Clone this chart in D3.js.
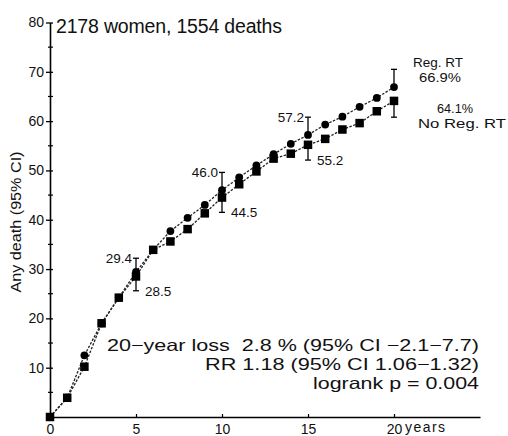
<!DOCTYPE html>
<html><head><meta charset="utf-8">
<script src="https://cdn.jsdelivr.net/npm/d3@7/dist/d3.min.js"></script>
<style>
html,body{margin:0;padding:0;background:#fff;}
svg{display:block;font-family:"Liberation Sans",Arial,sans-serif;}
</style></head>
<body>
<svg id="chart" width="508" height="436"></svg>
<script>
const years = d3.range(0, 21);
const regRT   = [0, 3.9, 12.5, 19.0, 24.2, 29.4, 33.9, 37.7, 40.4, 43.0, 46.0, 48.6, 51.0, 53.3, 55.4, 57.2, 59.3, 60.9, 62.9, 64.7, 66.9];
const noRegRT = [0, 3.9, 10.2, 19.0, 24.2, 28.5, 33.9, 35.6, 38.1, 41.3, 44.5, 47.2, 49.8, 52.4, 53.4, 55.2, 56.4, 58.3, 59.6, 62.0, 64.1];
const ciYears = [5, 10, 15, 20];
const regUpper = [32.2, 49.6, 60.8, 70.5];
const noRegLower = [25.6, 41.5, 52.1, 60.8];
const regLabels = ["29.4", "46.0", "57.2"];
const noRegLabels = ["28.5", "44.5", "55.2"];
const xTicks = [0, 5, 10, 15, 20];
const yTicks = [10, 20, 30, 40, 50, 60, 70, 80];
const yMinor = [5, 15, 25, 35, 45, 55, 65, 75];

const svg = d3.select("#chart");
const x = d3.scaleLinear().domain([0, 25]).range([50, 480]);
const y = d3.scaleLinear().domain([0, 80]).range([417, 22.5]);

// axes
const yAxis = svg.append("g").attr("transform", `translate(${x(0)},0)`)
  .call(d3.axisLeft(y).tickValues(yTicks).tickSize(4).tickSizeOuter(0).tickPadding(2));
yAxis.select(".domain").attr("stroke", "#000").attr("stroke-width", 1.6);
yAxis.selectAll(".tick line").attr("stroke-width", 1.3).attr("x2", -4).attr("x1", 3);
yAxis.selectAll(".tick text").attr("font-size", 14).attr("fill", "#111")
  .attr("font-family", "Liberation Sans, Arial, sans-serif");
svg.append("g").selectAll("line").data(yMinor).join("line")
  .attr("x1", x(0) - 2).attr("x2", x(0) + 3)
  .attr("y1", d => y(d)).attr("y2", d => y(d))
  .attr("stroke", "#000").attr("stroke-width", 1.2);

const xAxis = svg.append("g").attr("transform", `translate(0,${y(0)})`)
  .call(d3.axisBottom(x).tickValues(xTicks).tickSize(3).tickSizeOuter(0).tickPadding(4));
xAxis.select(".domain").attr("stroke", "#000").attr("stroke-width", 1.6);
xAxis.selectAll(".tick line").attr("y1", -3).attr("y2", 1).attr("stroke-width", 1.2);
xAxis.selectAll(".tick text").attr("font-size", 14).attr("fill", "#111")
  .attr("font-family", "Liberation Sans, Arial, sans-serif");
svg.append("text").attr("x", x(20) + 11).attr("y", 432)
  .attr("font-size", 14).attr("fill", "#111").attr("textLength", 40).text("years");

// y label
svg.append("text")
  .attr("transform", "translate(21,222) rotate(-90)")
  .attr("text-anchor", "middle").attr("font-size", 14).attr("fill", "#111")
  .attr("textLength", 141).attr("lengthAdjust", "spacingAndGlyphs")
  .text("Any death (95% CI)");

// title
svg.append("text").attr("x", 56).attr("y", 33).attr("font-size", 19.5).attr("fill", "#111")
  .attr("textLength", 226).text("2178 women, 1554 deaths");

// error bars
const capW = 3;
ciYears.forEach((yr, i) => {
  const xi = x(yr);
  const gi = years.indexOf(yr);
  const g = svg.append("g").attr("stroke", "#000").attr("stroke-width", 1.3);
  g.append("line").attr("x1", xi).attr("x2", xi).attr("y1", y(regRT[gi])).attr("y2", y(regUpper[i]));
  g.append("line").attr("x1", xi - capW).attr("x2", xi + capW).attr("y1", y(regUpper[i])).attr("y2", y(regUpper[i]));
  g.append("line").attr("x1", xi).attr("x2", xi).attr("y1", y(noRegRT[gi])).attr("y2", y(noRegLower[i]));
  g.append("line").attr("x1", xi - capW).attr("x2", xi + capW).attr("y1", y(noRegLower[i])).attr("y2", y(noRegLower[i]));
});

// lines
const lineGen = d3.line().x((d, i) => x(years[i])).y(d => y(d));
svg.append("path").datum(regRT).attr("d", lineGen)
  .attr("fill", "none").attr("stroke", "#222").attr("stroke-width", 1.3).attr("stroke-dasharray", "2.5,1.5");
svg.append("path").datum(noRegRT).attr("d", lineGen)
  .attr("fill", "none").attr("stroke", "#222").attr("stroke-width", 1.3).attr("stroke-dasharray", "2.5,1.5");

// markers
svg.append("g").selectAll("circle").data(regRT).join("circle")
  .attr("cx", (d, i) => x(years[i])).attr("cy", d => y(d)).attr("r", 3.9).attr("fill", "#000");
const sq = 8.5;
svg.append("g").selectAll("rect").data(noRegRT).join("rect")
  .attr("x", (d, i) => x(years[i]) - sq / 2).attr("y", d => y(d) - sq / 2)
  .attr("width", sq).attr("height", sq).attr("fill", "#000");

// value labels
regLabels.forEach((t, i) => {
  svg.append("text").attr("x", x(ciYears[i]) - 4).attr("y", y(regUpper[i]) + 5)
    .attr("text-anchor", "end").attr("font-size", 13.5).attr("fill", "#111").text(t);
});
noRegLabels.forEach((t, i) => {
  svg.append("text").attr("x", x(ciYears[i]) + 9).attr("y", y(noRegLower[i]) + 5)
    .attr("font-size", 13.5).attr("fill", "#111").text(t);
});

// right labels
const rl = [
  {t: "Reg. RT", cx: 438, cy: 62, w: 50},
  {t: "66.9%", cx: 440, cy: 77, w: 42},
  {t: "64.1%", cx: 455, cy: 108, w: 36},
  {t: "No Reg. RT", cx: 462, cy: 123, w: 88}
];
rl.forEach(d => {
  svg.append("text").attr("x", d.cx).attr("y", d.cy + 4.5).attr("text-anchor", "middle")
    .attr("font-size", 13).attr("fill", "#111").attr("textLength", d.w)
    .attr("lengthAdjust", "spacingAndGlyphs").text(d.t);
});

// annotation
const ann = [
  {t: "20\u2212year loss\u00a0\u00a02.8 % (95% CI \u22122.1\u22127.7)", y: 351, w: 372},
  {t: "RR 1.18 (95% CI 1.06\u22121.32)", y: 370, w: 274},
  {t: "logrank p = 0.004", y: 389, w: 166}
];
ann.forEach(d => {
  svg.append("text").attr("x", 479).attr("y", d.y).attr("text-anchor", "end")
    .attr("font-size", 16.5).attr("fill", "#111").attr("textLength", d.w)
    .attr("lengthAdjust", "spacingAndGlyphs").text(d.t);
});
</script>
</body></html>
